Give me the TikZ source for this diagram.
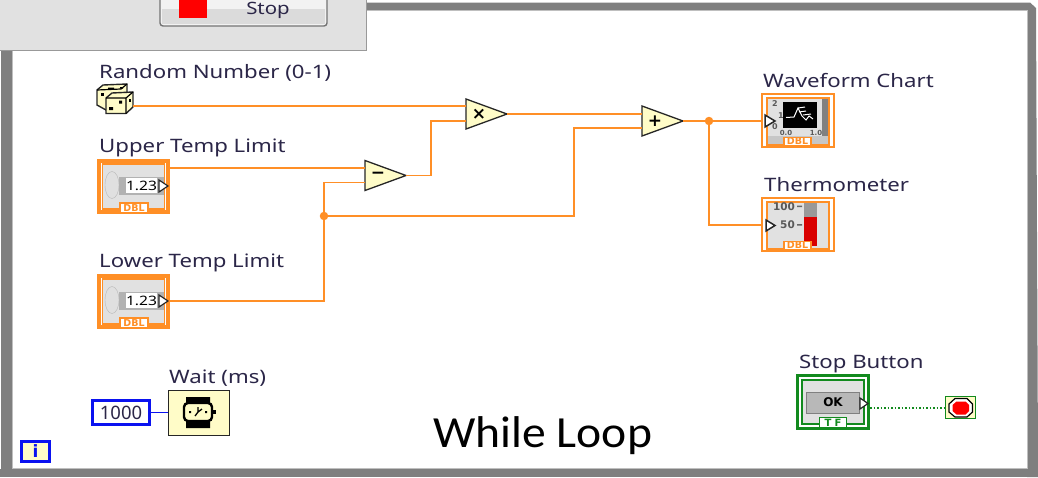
\documentclass[tikz,border=0pt]{standalone}
\usepackage{fontspec}
\setmainfont{Noto Sans}
\newfontfamily\labfont[FakeStretch=1.2]{Noto Sans}
\newfontfamily\callout[FakeStretch=1.07]{Carlito}
\newfontfamily\bft{DejaVu Sans}
\usetikzlibrary{calc,shapes.geometric}
\definecolor{wire}{HTML}{FF8F26}
\definecolor{loopgray}{HTML}{7F7F7F}
\definecolor{panel}{HTML}{E1E1E1}
\definecolor{cream}{HTML}{FFFCC8}
\definecolor{bluewire}{HTML}{0A12F0}
\definecolor{greenwire}{HTML}{128A1E}
\definecolor{labeltext}{HTML}{2B2648}
\tikzset{
  x=1pt,y=-1pt,
  wirepath/.style={draw=wire,line width=1.8pt},
  junction/.style={circle,fill=wire,inner sep=0pt,minimum size=8.5pt},
  lab/.style={anchor=base west,inner sep=0pt,text=labeltext,font=\labfont\fontsize{18.5}{20}\selectfont},
  prim/.style={draw=black!85,line width=1.3pt,fill=cream,line join=miter},
  opsym/.style={inner sep=0pt,font=\bft\bfseries\fontsize{17}{17}\selectfont},
  typetag/.style={fill=white,draw=#1,line width=1.6pt,text=#1,inner sep=0pt,minimum width=28pt,minimum height=10pt,font=\bft\bfseries\fontsize{9.5}{10}\selectfont},
  termarrow/.style={draw=black!85,fill=white,line width=1.2pt},
  tinynum/.style={inner sep=0pt,text=black!65,font=\bft\bfseries\fontsize{#1}{#1}\selectfont},
}
% numeric control terminal: name, left, top
\newcommand{\numctl}[3]{%
  \path (#2,#3) coordinate (#1tl) ++(73,55) coordinate (#1br);
  \path[draw=wire,line width=3.6pt] ($(#1tl)+(1.8,1.8)$) rectangle ($(#1br)+(-1.8,-1.8)$);
  \path[draw=wire,line width=1.5pt,fill=panel] ($(#1tl)+(5.5,5)$) rectangle ($(#1br)+(-5.5,-5)$);
  \node[ellipse,fill=black!12,draw=black!28,inner sep=0pt,minimum width=14pt,minimum height=27pt] at (#2+15,#3+26) {};
  \fill[black!30] (#2+22,#3+18) rectangle (#2+67,#3+36);
  \fill[white] (#2+29,#3+19) rectangle (#2+60,#3+34);
  \node[inner sep=0pt,font=\labfont\fontsize{13}{14}\selectfont] at (#2+44.5,#3+26.5) {1.23};
  \path[termarrow] (#2+62,#3+21) -- (#2+71,#3+27) -- (#2+62,#3+33) -- cycle;
  \node[typetag=wire] at (#2+37,#3+49) {DBL};
}
\newcommand{\indbox}[3]{%
  \path (#2,#3) coordinate (#1tl) ++(74,55) coordinate (#1br);
  \path[draw=wire,line width=1.6pt] ($(#1tl)+(.8,.8)$) rectangle ($(#1br)+(-.8,-.8)$);
  \path[draw=wire,line width=1.6pt,fill=panel] ($(#1tl)+(6,5)$) rectangle ($(#1br)+(-6,-3)$);
}
\newcommand{\primop}[4]{%
  \path[prim] (#2,#3) -- (#2+41,#3+15) -- (#2,#3+30) -- cycle;
  \node[opsym] at (#2+13,#3+15) {#4};
  \coordinate (#1a) at (#2,#3+7);
  \coordinate (#1b) at (#2,#3+22);
  \coordinate (#1o) at (#2+41,#3+15);
}
\begin{document}
\begin{tikzpicture}
\useasboundingbox (0,0) rectangle (1038,477);
\fill[white] (0,0) rectangle (1038,477);
% while loop frame
\fill[loopgray] (1,20) rectangle (12,477);
\fill[loopgray] (0,469) rectangle (1038,477);
\fill[loopgray] (300,2.5) -- (1030,2.5) -- (1036,8) -- (1038,463) -- (1038,477) -- (1027,477) -- (1027,10) -- (300,10) -- cycle;
\draw[black!25,line width=.8pt] (12,50) -- (12,468.6) -- (1027,468.6) -- (1027,10.4) -- (366,10.4);
% front-panel stop window
\path[fill=panel,draw=black!40,line width=1pt] (-2,-2) rectangle (366,50);
\path[fill=black!5,draw=black!55,line width=1.4pt,rounded corners=3pt] (160,-6) rectangle (327,26);
\fill[black!14] (162,9) rectangle (325,24);
\node[fill=red,inner sep=0pt,minimum width=28pt,minimum height=19pt,anchor=north west] (stopsq) at (179,-1) {};
\node[anchor=base,inner sep=0pt,text=labeltext,font=\labfont\fontsize{17}{20}\selectfont] (stoptxt) at (268,14.5) {Stop};

% terminals
\numctl{up}{97}{159}
\numctl{lo}{97}{274}
\coordinate (upout) at (170,168);
\coordinate (loout) at (170,301);

% labels
\node[lab] (l1) at (99,78) {Random Number (0-1)};
\node[lab] (l2) at (99,152.5) {Upper Temp Limit};
\node[lab] (l3) at (99,267) {Lower Temp Limit};
\node[lab] (l4) at (169,383) {Wait (ms)};
\node[lab] (l5) at (763,87) {Waveform Chart};
\node[lab] (l6) at (764,191) {Thermometer};
\node[lab] (l7) at (799,368) {Stop Button};
\node[anchor=base west,inner sep=0pt,font=\callout\fontsize{44.5}{46}\selectfont] (wl) at (433,447) {While Loop};

% primitives
\primop{sub}{365}{160.5}{−}
\primop{mul}{466}{99}{×}
\primop{add}{642}{106}{+}

% dice
\coordinate (diceout) at (133,106);
\path[prim,line width=1.4pt] (97,90) -- (103,85) -- (127,84) -- (127,95) -- (106,110) -- (97,105) -- cycle;
\draw[line width=1.2pt] (97,90) -- (121,89) -- (127,84);
\path[prim,line width=1.4pt] (106,98) -- (112,93) -- (133,92) -- (133,107) -- (126,113.5) -- (106,113.5) -- cycle;
\draw[line width=1.2pt] (106,98) -- (126,98) -- (133,92) (126,98) -- (126,113.5);
\fill (108,87.5) rectangle (114,89) (120,87) rectangle (123,88.5);
\fill (101,93) rectangle (104,96);
\fill (119,100.5) rectangle (122,103.5) (109,107) rectangle (113,110);
\fill (128.5,99) rectangle (130.5,102);

% indicators
\indbox{wf}{761}{93}
\fill[black!50] (822,99) rectangle (828,144);
\fill[black!22] (768,136) rectangle (828,144);
\fill[black] (783,102) rectangle (817,128);
\draw[white,line width=1pt] (786,117.5) -- (794,117) -- (798,108) -- (802,116) -- (806,120) -- (809,116) -- (813,119) (798,108) -- (805,107) (799,112) -- (806,111) (803,115) -- (811,114);
\node[tinynum=8] at (775,104) {2};
\node[tinynum=8] at (781,116) {1};
\node[tinynum=8] at (775,127) {0};
\node[tinynum=7] at (786,133) {0.0};
\node[tinynum=7] at (816,133) {1.0};
\path[termarrow,line width=1.5pt] (765,115) -- (775,121) -- (765,127) -- cycle;
\node[typetag=wire,minimum width=27pt,minimum height=8pt] at (797.5,141.5) {DBL};

\indbox{th}{761}{197}
\node[tinynum=10.5] at (784,206.5) {100};
\node[tinynum=10.5] at (787.5,225) {50};
\fill[black!60] (797,205.5) rectangle (802,207) (797,224) rectangle (802,225.5);
\fill[black!40] (804,203) rectangle (817,217);
\fill[red!85!black] (804,217) rectangle (817,246);
\path[termarrow,line width=1.5pt] (766,220) -- (775,225.5) -- (766,231) -- cycle;
\node[typetag=wire,minimum width=27pt,minimum height=8pt] at (797.5,245.5) {DBL};

% wires
\coordinate (j1) at (324,216);
\coordinate (j2) at (709,121);
\coordinate (wfin) at (761,121);
\coordinate (thin) at (761,225);
\draw[wirepath] (diceout) -- (diceout -| mula);
\draw[wirepath] (upout) -- (upout -| suba);
\draw[wirepath] (loout) -| (j1);
\draw[wirepath] (j1) |- (subb);
\draw[wirepath] (subo) -- ++(25,0) |- (mulb);
\draw[wirepath] (mulo) -- (mulo -| adda);
\draw[wirepath] (j1) -- (574,216) |- (addb);
\draw[wirepath] (addo) -- (wfin);
\draw[wirepath] (j2) |- (thin);
\node[junction] (dot1) at (j1) {};
\node[junction] (dot2) at (j2) {};

% wait
\node[draw=black!85,fill=cream,line width=1.6pt,minimum width=61pt,minimum height=45pt,inner sep=0pt,anchor=north west] (wait) at (167.5,389.5) {};
\fill[black] (186,397) rectangle (210,403) (186,421) rectangle (210,428);
\draw[fill=cream,line width=2.4pt,rounded corners=4pt] (184,403) rectangle (212,421);
\fill (212.5,410) rectangle (215.5,414);
\draw[line width=1.3pt] (198,412) -- (198,407) (198,412) -- (195,416) (198,412) -- (202,409);
\fill (189,411) rectangle (191,413) (205,411) rectangle (207,413);
\node[draw=bluewire,line width=3pt,fill=white,minimum width=57pt,minimum height=24pt,inner sep=0pt,text=labeltext,font=\fontsize{18.5}{18}\selectfont] (const) at (121,412.5) {1000};
\draw[bluewire,line width=1.5pt] (const.east) -- (const.east -| wait.west);
\node[draw=bluewire,line width=3pt,fill=cream,minimum width=28pt,minimum height=20pt,inner sep=0pt,text=bluewire,font=\bft\bfseries\fontsize{17}{17}\selectfont] (iter) at (35.5,451.5) {i};

% stop button terminal
\path[draw=greenwire,line width=3.4pt] (797.7,375.7) rectangle (868.3,428.3);
\path[draw=greenwire,line width=1.5pt,fill=panel] (802,380) rectangle (864,424);
\node[fill=black!28,draw=black!50,line width=1pt,minimum width=53pt,minimum height=21pt,inner sep=0pt,font=\bft\bfseries\fontsize{12}{12}\selectfont] (okb) at (833,402.5) {OK};
\path[termarrow,line width=1.2pt] (860,398) -- (868,403.5) -- (860,409) -- cycle;
\node[typetag=greenwire,minimum width=27pt,minimum height=10pt,font=\bft\bfseries\fontsize{10}{10}\selectfont] (tf) at (833,422.5) {T\,\,F};
\node[draw=greenwire,line width=1.2pt,fill=cream,minimum width=30pt,minimum height=22pt,inner sep=0pt] (stopcond) at (960.5,407.5) {};
\coordinate (stopout) at (870,408);
\draw[greenwire,line width=1.5pt,dotted] (stopout) -- (stopout -| stopcond.west);
\draw[black,line width=1.2pt,fill=white] (949,404) -- (955,398.5) -- (967,398.5) -- (972.5,404) -- (972.5,412) -- (967,417) -- (955,417) -- (949,412) -- cycle;
\fill[red] (952.5,405) -- (956.5,401.5) -- (965.5,401.5) -- (969,405) -- (969,411) -- (965.5,414.5) -- (956.5,414.5) -- (952.5,411) -- cycle;
\end{tikzpicture}
\end{document}
